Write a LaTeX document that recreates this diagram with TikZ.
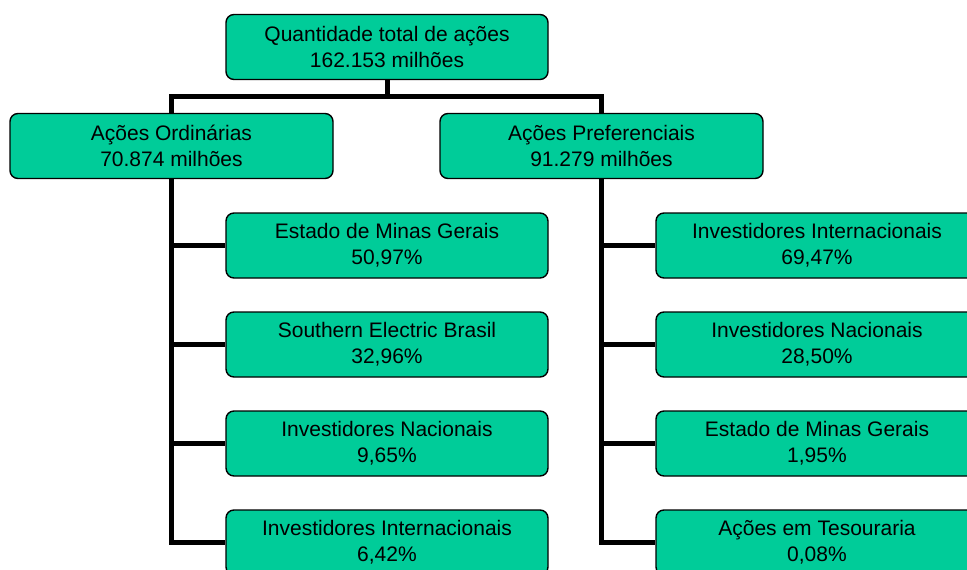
\documentclass[tikz,border=0pt]{standalone}
\usepackage{fontspec}
\setmainfont{Liberation Sans}
\definecolor{boxgreen}{HTML}{00CC99}
\begin{document}
\begin{tikzpicture}[x=1pt,y=-1pt,
  box/.style={draw=black,line width=1.4pt,fill=boxgreen,rounded corners=8pt,
    minimum width=322pt,minimum height=65pt,inner sep=0pt,align=center,
    font=\fontsize{21}{26}\selectfont},
  conn/.style={draw=black,line width=5pt,line join=miter}]
\clip (0,0) rectangle (967,570);
\fill[white] (0,0) rectangle (967,570);
% nodes
\node[box] (top) at (387,47) {Quantidade total de ações\\162.153 milhões};
\node[box,minimum width=323pt] (ord) at (171.5,146) {Ações Ordinárias\\70.874 milhões};
\node[box,minimum width=323pt] (pref) at (601.5,146) {Ações Preferenciais\\91.279 milhões};
\node[box] (l1) at (387,245.5) {Estado de Minas Gerais\\50,97\%};
\node[box] (l2) at (387,344.5) {Southern Electric Brasil\\32,96\%};
\node[box] (l3) at (387,443.5) {Investidores Nacionais\\9,65\%};
\node[box] (l4) at (387,542.5) {Investidores Internacionais\\6,42\%};
\node[box] (r1) at (817,245.5) {Investidores Internacionais\\69,47\%};
\node[box] (r2) at (817,344.5) {Investidores Nacionais\\28,50\%};
\node[box] (r3) at (817,443.5) {Estado de Minas Gerais\\1,95\%};
\node[box] (r4) at (817,542.5) {Ações em Tesouraria\\0,08\%};
\coordinate (bar) at (387,96);
% connectors
\draw[conn] (top.south) -- (bar);
\draw[conn] (ord.north) |- (bar) -| (pref.north);
\foreach \c in {l1,l2,l3,l4} \draw[conn] (ord.south) |- (\c.west);
\foreach \c in {r1,r2,r3,r4} \draw[conn] (pref.south) |- (\c.west);
\end{tikzpicture}
\end{document}
